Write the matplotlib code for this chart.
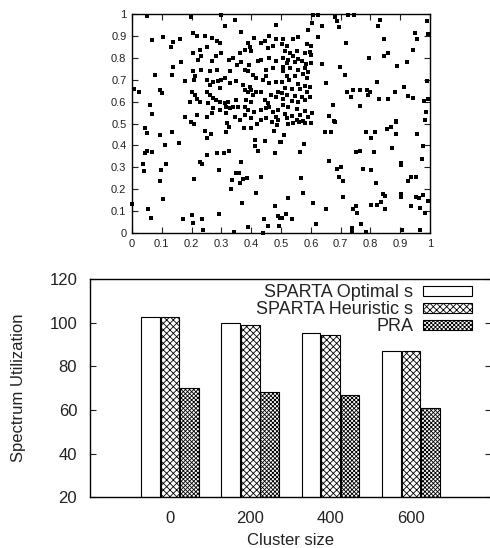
import matplotlib
matplotlib.use("Agg")
import matplotlib.pyplot as plt
import numpy as np

plt.rcParams['font.family'] = ['Liberation Sans', 'DejaVu Sans']
plt.rcParams['hatch.linewidth'] = 0.6

# ---------------- scatter data (node positions) ----------------
pts_x = [
0.050,0.198,0.300,0.345,0.311,0.483,0.367,0.067,0.103,0.139,0.130,0.161,0.206,0.217,0.245,0.270,0.286,0.295,0.252,0.228,
0.206,0.233,0.222,0.267,0.281,0.300,0.326,0.339,0.361,0.378,0.395,0.411,0.389,0.433,0.445,0.461,0.483,0.472,0.456,0.163,
0.137,0.133,0.078,0.230,0.206,0.261,0.286,0.328,0.352,0.367,0.378,0.392,0.400,0.422,0.433,0.461,0.483,0.472,0.450,0.406,
0.389,0.006,0.022,0.095,0.100,0.178,0.208,0.212,0.250,0.261,0.272,0.289,0.300,0.311,0.328,0.295,0.350,0.372,0.395,0.400,
0.417,0.439,0.450,0.461,0.483,0.433,0.417,0.389,0.406,0.378,0.200,0.211,0.250,0.261,0.217,0.228,0.195,0.272,0.283,0.256,
0.295,0.311,0.322,0.350,0.383,0.400,0.445,0.456,0.467,0.483,0.489,0.061,0.067,0.272,0.295,0.317,0.328,0.339,0.356,0.378,
0.389,0.411,0.433,0.450,0.461,0.472,0.489,0.178,0.217,0.250,0.267,0.317,0.345,0.361,0.378,0.400,0.433,0.450,0.483,0.489,
# upper right
0.609,0.625,0.681,0.689,0.726,0.745,0.832,0.827,0.989,0.603,0.636,0.696,0.592,0.950,0.994,0.625,0.957,0.846,0.718,0.944,
0.796,0.846,0.860,0.922,0.888,0.636,0.698,0.715,0.821,0.911,0.989,0.651,0.720,0.743,0.765,0.790,0.799,0.735,0.793,0.883,
0.927,0.944,0.830,0.860,0.980,0.994,0.676,0.765,0.987,0.662,0.678,0.886,0.984,
0.508,0.539,0.558,0.586,0.600,0.502,0.519,0.513,0.530,0.553,0.581,0.597,0.508,0.525,0.541,0.558,0.600,0.519,0.547,0.569,
0.584,0.600,0.506,0.530,0.558,0.581,0.508,0.575,0.592,0.519,0.547,0.586,0.528,0.502,0.558,0.581,0.597,0.513,0.536,0.564,
0.588,0.502,0.521,0.547,0.569,0.597,0.508,0.536,0.558,0.581,0.506,0.525,0.553,0.581,0.603,0.513,0.536,0.564,0.592,0.521,
0.553,0.575,
# lower left
0.197,0.208,0.318,0.327,0.376,0.398,0.421,0.469,0.485,0.044,0.049,0.094,0.133,0.245,0.264,0.251,0.315,0.477,0.111,0.159,
0.413,0.446,0.497,0.413,0.424,0.044,0.051,0.066,0.253,0.284,0.309,0.324,0.480,0.036,0.040,0.096,0.114,0.228,0.235,0.291,
0.367,0.350,0.360,0.094,0.208,0.334,0.362,0.374,0.385,0.432,0.331,0.415,0.103,0.000,0.368,0.479,0.055,0.063,0.200,0.204,
0.170,0.234,0.291,0.237,0.342,0.388,0.441,0.444,0.455,0.491,0.497,0.493,
# lower right
0.525,0.539,0.562,0.581,0.600,0.681,0.886,0.510,0.499,0.648,0.667,0.785,0.815,0.801,0.857,0.868,0.886,0.955,0.577,0.564,
0.752,0.765,0.812,0.871,0.975,0.662,0.687,0.700,0.774,0.801,0.902,0.902,0.972,0.566,0.696,0.707,0.819,0.925,0.936,0.953,
0.573,0.525,0.606,0.651,0.707,0.740,0.752,0.754,0.801,0.823,0.836,0.843,0.849,0.849,0.902,0.902,0.953,0.964,0.975,0.992,
0.936,0.967,0.984,0.517,0.502,0.536,0.617,0.737,0.737,0.769,0.785,0.905,0.967,
]
pts_y = [
0.989,0.985,0.995,0.974,0.946,0.951,0.918,0.882,0.897,0.872,0.851,0.888,0.912,0.900,0.900,0.892,0.877,0.866,0.851,0.838,
0.823,0.808,0.792,0.785,0.808,0.823,0.792,0.800,0.823,0.835,0.851,0.892,0.869,0.866,0.877,0.900,0.885,0.854,0.846,0.780,
0.758,0.723,0.723,0.746,0.738,0.738,0.746,0.738,0.769,0.780,0.746,0.769,0.831,0.785,0.792,0.800,0.785,0.754,0.746,0.723,
0.738,0.657,0.646,0.651,0.638,0.692,0.700,0.715,0.700,0.677,0.688,0.692,0.700,0.708,0.685,0.662,0.692,0.677,0.669,0.654,
0.708,0.700,0.715,0.685,0.688,0.646,0.646,0.646,0.631,0.654,0.646,0.631,0.646,0.631,0.611,0.600,0.600,0.615,0.608,0.592,
0.600,0.592,0.600,0.608,0.608,0.600,0.608,0.592,0.631,0.620,0.646,0.585,0.543,0.569,0.562,0.574,0.569,0.577,0.577,0.577,
0.562,0.554,0.562,0.569,0.577,0.554,0.562,0.528,0.538,0.531,0.546,0.546,0.531,0.518,0.538,0.523,0.515,0.523,0.531,0.515,
# upper right
0.995,0.995,0.985,0.969,0.995,0.995,0.974,0.946,0.969,0.958,0.946,0.943,0.928,0.912,0.908,0.897,0.885,0.885,0.869,0.835,
0.800,0.808,0.823,0.780,0.762,0.774,0.758,0.723,0.688,0.669,0.692,0.685,0.642,0.651,0.654,0.654,0.642,0.620,0.631,0.642,
0.626,0.615,0.611,0.611,0.605,0.611,0.585,0.580,0.554,0.534,0.512,0.512,0.515,
0.885,0.888,0.897,0.862,0.854,0.862,0.854,0.831,0.823,0.831,0.823,0.826,0.800,0.792,0.808,0.795,0.811,0.777,0.780,0.785,
0.774,0.777,0.758,0.754,0.746,0.754,0.738,0.728,0.734,0.718,0.715,0.708,0.697,0.688,0.682,0.672,0.666,0.662,0.657,0.657,
0.646,0.638,0.631,0.626,0.620,0.623,0.611,0.605,0.600,0.608,0.585,0.577,0.565,0.558,0.549,0.543,0.534,0.538,0.531,0.523,
0.515,0.511,
# lower left
0.507,0.499,0.504,0.484,0.481,0.481,0.499,0.507,0.493,0.478,0.458,0.447,0.463,0.466,0.454,0.432,0.463,0.466,0.402,0.412,
0.423,0.420,0.417,0.397,0.374,0.367,0.374,0.371,0.355,0.367,0.367,0.374,0.367,0.314,0.283,0.289,0.317,0.326,0.317,0.289,
0.326,0.275,0.275,0.237,0.248,0.244,0.230,0.248,0.253,0.256,0.201,0.184,0.157,0.131,0.139,0.123,0.111,0.070,0.082,0.047,
0.065,0.065,0.088,0.012,0.006,0.029,0.002,0.065,0.033,0.079,0.068,0.033,
# lower right
0.499,0.504,0.507,0.504,0.504,0.507,0.508,0.447,0.417,0.463,0.463,0.463,0.463,0.432,0.473,0.486,0.454,0.454,0.408,0.371,
0.371,0.376,0.371,0.390,0.399,0.329,0.294,0.303,0.294,0.288,0.321,0.311,0.339,0.253,0.257,0.237,0.230,0.237,0.257,0.257,
0.184,0.161,0.139,0.111,0.166,0.111,0.123,0.093,0.129,0.129,0.143,0.180,0.170,0.111,0.180,0.166,0.166,0.161,0.172,0.148,
0.125,0.116,0.093,0.088,0.070,0.065,0.043,0.024,0.003,0.043,0.003,0.015,0.015,
]

# ---------------- bar data ----------------
cluster_sizes = ['0', '200', '400', '600']
optimal = [102.7, 99.7, 95.1, 87.2]
heuristic = [102.4, 98.9, 94.3, 86.8]
pra = [70.2, 68.4, 66.8, 60.8]
series_names = ['SPARTA Optimal s', 'SPARTA Heuristic s', 'PRA']

fig = plt.figure(figsize=(4.9, 5.48), dpi=100)

# ---- scatter ----
ax1 = fig.add_axes([0.2694, 0.5748, 0.6082, 0.3996])
ax1.plot(pts_x, pts_y, linestyle='none', marker='s', ms=3.3, color='black',
         markeredgewidth=0, clip_on=False)
ax1.set_xlim(0, 1)
ax1.set_ylim(0, 1)
ticks = np.round(np.arange(0, 1.01, 0.1), 1)
lbls = ['0'] + [f'{t:.1f}' for t in ticks[1:-1]] + ['1']
ax1.set_xticks(ticks)
ax1.set_xticklabels(lbls)
ax1.set_yticks(ticks)
ax1.set_yticklabels(lbls)
ax1.tick_params(direction='in', length=4, width=0.8, labelsize=8, pad=4,
                top=True, right=True, colors='#222222')
for s in ax1.spines.values():
    s.set_linewidth(1.0)

# ---- bars ----
ax2 = fig.add_axes([0.1831, 0.0925, 0.8196, 0.3984])
x = np.arange(len(cluster_sizes))
w = 0.23
ax2.bar(x - 0.245, optimal, w, bottom=0, facecolor='white', edgecolor='black',
        linewidth=0.8, label=series_names[0])
ax2.bar(x, heuristic, w, facecolor='white', edgecolor='black', hatch='xxxxx',
        linewidth=0.8, label=series_names[1])
ax2.bar(x + 0.24, pra, w, facecolor='white', edgecolor='black', hatch='xxxxxxxx',
        linewidth=0.8, label=series_names[2])
ax2.set_xlim(-1, 4)
ax2.set_ylim(20, 120)
ax2.set_yticks([20, 40, 60, 80, 100, 120])
ax2.set_xticks(x)
ax2.set_xticklabels(cluster_sizes)
ax2.tick_params(axis='y', direction='in', length=4, width=0.8, labelsize=12,
                pad=9, right=True, colors='#222222')
ax2.tick_params(axis='x', length=0, labelsize=12, pad=10, colors='#222222')
ax2.set_xlabel('Cluster size', fontsize=12, labelpad=5, color='#222222')
ax2.set_ylabel('Spectrum Utilization', fontsize=12, labelpad=17, color='#222222')
for s in ax2.spines.values():
    s.set_linewidth(1.0)

leg = ax2.legend(loc='upper right', bbox_to_anchor=(0.952, 0.975),
                 frameon=False, markerfirst=False, fontsize=13,
                 handlelength=2.7, handleheight=0.45, labelspacing=0.0,
                 handletextpad=0.55, borderpad=0, borderaxespad=0)
for t in leg.get_texts():
    t.set_color('#222222')

fig.savefig('out.png', dpi=100)
